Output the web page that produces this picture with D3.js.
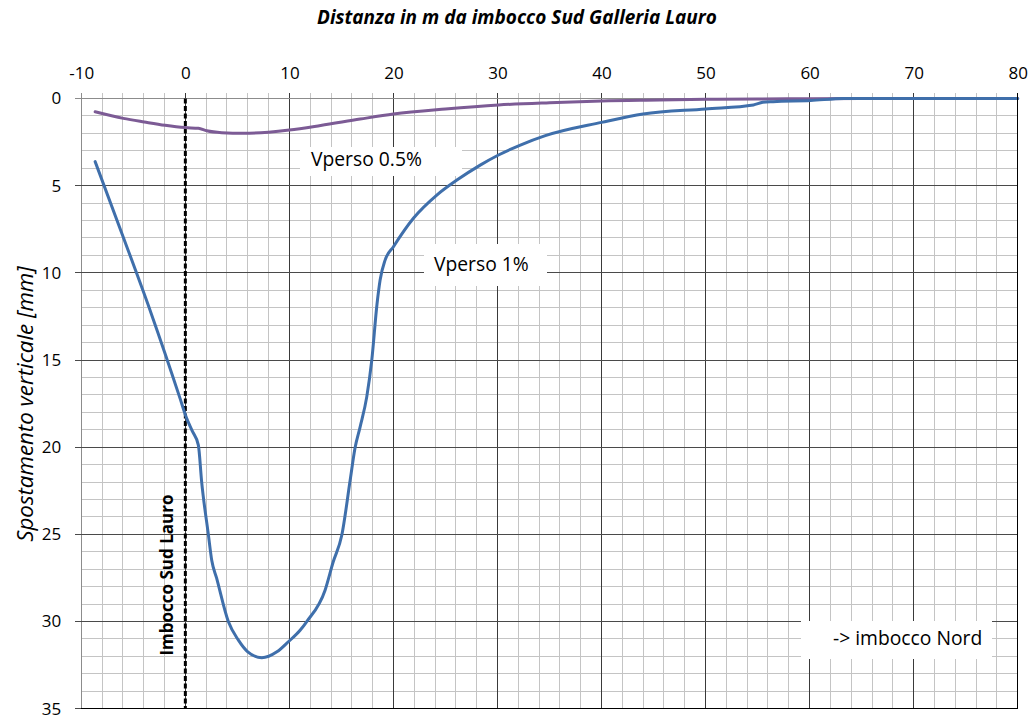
<!DOCTYPE html>
<html>
<head>
<meta charset="utf-8">
<script src="https://cdn.jsdelivr.net/npm/d3@7"></script>
<style>
  html, body { margin: 0; padding: 0; background: #fff; }
  svg { display: block; }
</style>
</head>
<body>
<svg id="chart" width="1031" height="716"></svg>
<script>
// Settlement profiles along the tunnel axis (distance in m, settlement in mm)
const xTicks = [-10, 0, 10, 20, 30, 40, 50, 60, 70, 80];
const yTicks = [0, 5, 10, 15, 20, 25, 30, 35];

const vperso1X = [-8.67, -6.0, -3.3, -0.51, 0.07, 0.66, 1.25, 1.57, 2.21, 2.54, 3.0, 4.13, 5.1, 6.0, 7.35, 8.8, 9.9, 11.03, 11.67, 13.43, 14.2, 15.04, 15.84, 16.3, 16.8, 17.44, 17.92, 18.42, 18.72, 19.2, 20.0, 21.92, 24.17, 26.1, 28.34, 30.1, 32.2, 34.6, 40.0, 44.0, 50.0, 54.6, 55.5, 56.5, 60.1, 63.3, 70, 80];
const vperso1Y = [3.62, 7.9, 12.3, 17.2, 18.26, 19.07, 19.88, 22.0, 25.0, 26.5, 27.5, 30.0, 31.07, 31.74, 32.08, 31.74, 31.16, 30.5, 30.0, 28.2, 26.6, 25.04, 21.9, 20.07, 18.83, 17.1, 15.0, 11.8, 10.41, 9.27, 8.5, 6.87, 5.54, 4.68, 3.82, 3.24, 2.67, 2.13, 1.37, 0.89, 0.6, 0.37, 0.22, 0.18, 0.12, 0.0, 0.0, 0.0];

const vperso05X = [-8.67, -5.96, -3.94, -1.95, 0.0, 1.25, 2.06, 3.5, 5.6, 8.0, 10.0, 13.0, 16.8, 20.0, 25.0, 30.1, 35.0, 40.0, 45.6, 50.0, 55.0, 60.0, 65.0, 80];
const vperso05Y = [0.76, 1.14, 1.35, 1.54, 1.67, 1.71, 1.85, 1.96, 2.0, 1.93, 1.81, 1.55, 1.18, 0.89, 0.6, 0.37, 0.24, 0.14, 0.09, 0.05, 0.03, 0.01, 0.0, 0.0];

const annotations = [
  { text: "Vperso 0.5%", x0: 300, y0: 147, w: 162, h: 29, tx: 311, ty: 166 },
  { text: "Vperso 1%", x0: 424, y0: 244, w: 123, h: 42, tx: 434, ty: 271 },
  { text: "-> imbocco Nord", x0: 801, y0: 621, w: 191, h: 38, tx: 833, ty: 645 }
];

const svg = d3.select("#chart");
const fontFamily = "'Open Sans', 'Noto Sans', sans-serif";

const x = d3.scaleLinear().domain([-10, 80]).range([81.3, 1017.7]);
const y = d3.scaleLinear().domain([0, 35]).range([98.5, 708.7]);

const [plotLeft, plotRight] = x.range();
const [plotTop, plotBottom] = y.range();

// minor grid
const minorX = d3.range(-10, 81, 2).filter(v => v % 10 !== 0);
const minorY = d3.range(0, 36, 1).filter(v => v % 5 !== 0);

const grid = svg.append("g").attr("shape-rendering", "crispEdges");
grid.selectAll("line.mx").data(minorX).join("line")
  .attr("x1", d => x(d)).attr("x2", d => x(d))
  .attr("y1", plotTop - 6).attr("y2", plotBottom)
  .attr("stroke", "#c4c4c4").attr("stroke-width", 1);
grid.selectAll("line.my").data(minorY).join("line")
  .attr("x1", plotLeft).attr("x2", plotRight)
  .attr("y1", d => y(d)).attr("y2", d => y(d))
  .attr("stroke", "#c4c4c4").attr("stroke-width", 1);

// major grid
grid.selectAll("line.Mx").data(xTicks).join("line")
  .attr("x1", d => x(d)).attr("x2", d => x(d))
  .attr("y1", plotTop - 6).attr("y2", plotBottom)
  .attr("stroke", d => (d === -10 ? "#8c8c8c" : "#3a3a3a")).attr("stroke-width", 1);
grid.selectAll("line.My").data(yTicks).join("line")
  .attr("x1", plotLeft - 6).attr("x2", plotRight)
  .attr("y1", d => y(d)).attr("y2", d => y(d))
  .attr("stroke", d => (d === 0 ? "#8c8c8c" : "#4a4a4a")).attr("stroke-width", 1);

// axes (labels only; grid lines act as ticks)
const plainNumber = d => String(d);
const topAxis = d3.axisTop(x).tickValues(xTicks).tickSize(0).tickPadding(20).tickFormat(plainNumber);
svg.append("g").attr("transform", `translate(0,${plotTop})`).call(topAxis)
  .call(g => g.select(".domain").remove())
  .call(g => g.selectAll("text").attr("font-family", fontFamily).attr("font-size", 17).attr("fill", "#000"));

const leftAxis = d3.axisLeft(y).tickValues(yTicks).tickSize(0).tickPadding(20).tickFormat(plainNumber);
svg.append("g").attr("transform", `translate(${plotLeft},0)`).call(leftAxis)
  .call(g => g.select(".domain").remove())
  .call(g => g.selectAll("text").attr("font-family", fontFamily).attr("font-size", 17).attr("fill", "#000"));

// annotation boxes
const ann = svg.append("g");
ann.selectAll("rect").data(annotations).join("rect")
  .attr("x", d => d.x0).attr("y", d => d.y0).attr("width", d => d.w).attr("height", d => d.h)
  .attr("fill", "#fff");
ann.selectAll("text").data(annotations).join("text")
  .attr("x", d => d.tx).attr("y", d => d.ty)
  .attr("font-family", fontFamily).attr("font-size", 19.3).attr("fill", "#000")
  .text(d => d.text);

// tunnel portal marker
svg.append("line")
  .attr("x1", x(0)).attr("x2", x(0)).attr("y1", plotTop).attr("y2", plotBottom)
  .attr("stroke", "#000").attr("stroke-width", 3).attr("stroke-dasharray", "5,2.5");
svg.append("text")
  .attr("transform", `translate(${x(0) - 12.5},${575}) rotate(-90)`)
  .attr("text-anchor", "middle")
  .attr("font-family", fontFamily).attr("font-size", 17).attr("font-weight", "bold")
  .attr("fill", "#000")
  .text("Imbocco Sud Lauro");

// settlement curves
const line = d3.line().x(d => x(d[0])).y(d => y(d[1])).curve(d3.curveMonotoneX);
const series = [
  { xs: vperso05X, ys: vperso05Y, color: "#7c5b95" },
  { xs: vperso1X, ys: vperso1Y, color: "#3f6fab" }
];
svg.append("g").selectAll("path").data(series).join("path")
  .attr("d", s => line(s.xs.map((v, i) => [v, s.ys[i]])))
  .attr("fill", "none").attr("stroke", s => s.color).attr("stroke-width", 3)
  .attr("stroke-linejoin", "round").attr("stroke-linecap", "round");

// plot frame (right and bottom edges)
svg.append("path")
  .attr("d", `M${plotRight},${plotTop - 6}V${plotBottom}H${plotLeft}`)
  .attr("fill", "none").attr("stroke", "#000").attr("stroke-width", 1.2)
  .attr("shape-rendering", "crispEdges");

// titles
svg.append("text")
  .attr("x", 517).attr("y", 24).attr("text-anchor", "middle")
  .attr("font-family", fontFamily).attr("font-size", 19)
  .attr("font-weight", "bold").attr("font-style", "italic").attr("fill", "#000")
  .text("Distanza in m da imbocco Sud Galleria Lauro");

svg.append("text")
  .attr("transform", "translate(33,404) rotate(-90)")
  .attr("text-anchor", "middle")
  .attr("font-family", fontFamily).attr("font-size", 22.3)
  .attr("font-style", "italic").attr("fill", "#000")
  .text("Spostamento verticale [mm]");
</script>
</body>
</html>
